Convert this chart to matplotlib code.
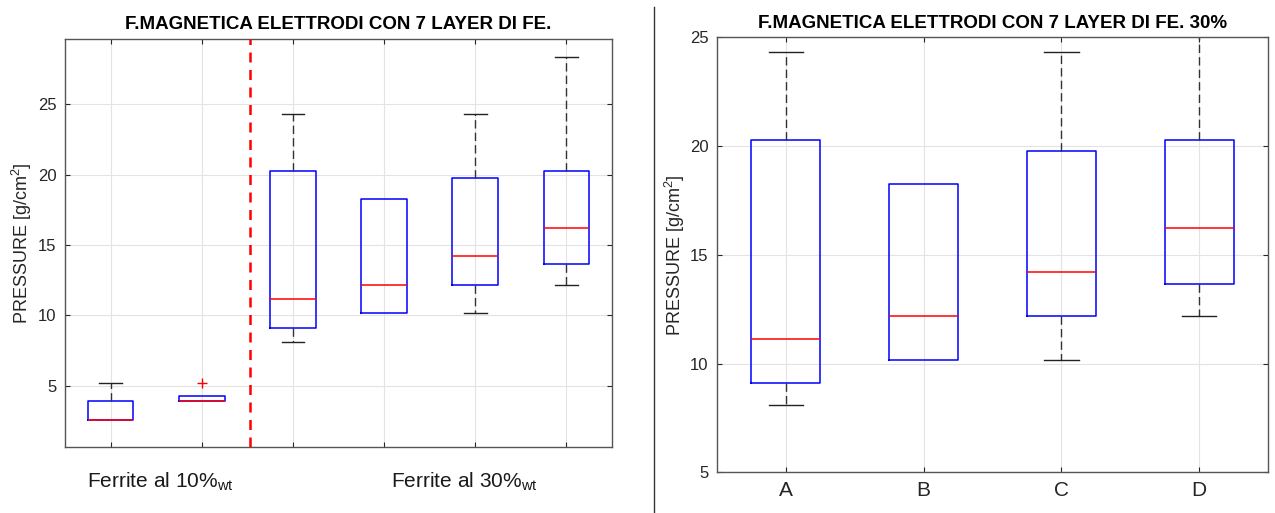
"""
Box plot della pressione: elettrodi con 7 layer di Fe (ferrite 10% e 30%)
"""

import matplotlib
matplotlib.use("Agg")
import matplotlib.pyplot as plt
from matplotlib.lines import Line2D

plt.rcParams['font.family'] = ['Liberation Sans', 'DejaVu Sans']
plt.rcParams['mathtext.fontset'] = 'custom'
plt.rcParams['mathtext.rm'] = 'Liberation Sans'
plt.rcParams['mathtext.it'] = 'Liberation Sans:italic'

# Statistiche (g/cm^2)
# gruppi: 2 x ferrite 10%, 4 x ferrite 30% (A, B, C, D)
q1 = [2.59, 3.89, 9.12, 10.15, 12.18, 13.68]
median = [2.59, 3.89, 11.15, 12.17, 14.20, 16.21]
q3 = [3.89, 4.24, 20.27, 18.25, 19.76, 20.27]
whis_lo = [2.59, 3.89, 8.11, 10.15, 10.15, 12.17]
whis_hi = [5.19, 4.24, 24.33, 18.25, 24.33, 28.38]
outliers = [[], [5.19], [], [], [], []]

labels_30 = ['A', 'B', 'C', 'D']
group_text = [r'Ferrite al 10%$_{\mathrm{wt}}$', r'Ferrite al 30%$_{\mathrm{wt}}$']

TXT = '#262626'


def make_stats(idx):
    return [dict(q1=q1[i], med=median[i], q3=q3[i], whislo=whis_lo[i],
                 whishi=whis_hi[i], fliers=outliers[i]) for i in idx]


def matlab_box(ax, idx):
    stats = make_stats(idx)
    n = len(stats)
    parts = ax.bxp(stats, positions=range(1, n + 1), widths=0.5, capwidths=0.25,
                   showfliers=True,
                   boxprops=dict(color='#0000ff', linewidth=1.1),
                   medianprops=dict(color='#ff0000', linewidth=1.1),
                   whiskerprops=dict(color='#333333', linewidth=1.0,
                                     linestyle=(0, (6, 3))),
                   capprops=dict(color='#222222', linewidth=1.0),
                   flierprops=dict(marker='+', markeredgecolor='#ff0000',
                                   markersize=7, markeredgewidth=1.0))
    # niente baffi se coincidono con il bordo della scatola (come in MATLAB)
    for k, s in enumerate(stats):
        if s['whislo'] == s['q1']:
            parts['caps'][2 * k].set_visible(False)
        if s['whishi'] == s['q3']:
            parts['caps'][2 * k + 1].set_visible(False)
    ax.set_xlim(0.5, n + 0.5)
    ax.grid(True, color='#e3e3e3', linewidth=0.8)
    ax.set_axisbelow(True)
    ax.tick_params(direction='in', length=3.5, top=True, right=True, pad=6,
                   color='#262626', labelcolor=TXT, labelsize=12)
    for sp in ax.spines.values():
        sp.set_color('#555555')
        sp.set_linewidth(1.0)


fig = plt.figure(figsize=(12.75, 5.13), dpi=100)

# pannello sinistro: tutti i gruppi
ax1 = fig.add_axes([65 / 1275, 1 - 447 / 513, 547 / 1275, 408 / 513])
matlab_box(ax1, range(6))
ax1.set_ylim(0.65, 29.64)
ax1.set_yticks([5, 10, 15, 20, 25])
ax1.set_xticks(range(1, 7))
ax1.set_xticklabels([])
ax1.axvline(2.53, color='#ff0000', linewidth=1.8, linestyle=(0, (4, 3)), zorder=5)
ax1.set_title('F.MAGNETICA ELETTRODI CON 7 LAYER DI FE.', fontsize=13.5,
              fontweight='bold', color='black', pad=7)
ax1.set_ylabel(r'PRESSURE [g/cm$^{2}$]', fontsize=13, color=TXT, labelpad=3)

fig.text(160 / 1275, 1 - 482 / 513, group_text[0], ha='center', va='center',
         fontsize=15, color='#1a1a1a')
fig.text(464 / 1275, 1 - 482 / 513, group_text[1], ha='center', va='center',
         fontsize=15, color='#1a1a1a')

# pannello destro: solo 30%
ax2 = fig.add_axes([717 / 1275, 1 - 472.3 / 513, 551 / 1275, 435 / 513])
matlab_box(ax2, range(2, 6))
ax2.set_ylim(5, 25)
ax2.set_yticks([5, 10, 15, 20, 25])
ax2.set_xticks(range(1, 5))
ax2.set_xticklabels(labels_30)
ax2.tick_params(axis='x', labelsize=15, pad=6)
ax2.set_title('F.MAGNETICA ELETTRODI CON 7 LAYER DI FE. 30%', fontsize=13.5,
              fontweight='bold', color='black', pad=7)
ax2.set_ylabel(r'PRESSURE [g/cm$^{2}$]', fontsize=13, color=TXT, labelpad=2)

# linea di separazione tra i pannelli
fig.add_artist(Line2D([654 / 1275, 654 / 1275], [0, 1 - 7 / 513],
                      transform=fig.transFigure, color='#333333', linewidth=1.0))

fig.savefig('out.png', dpi=100)
